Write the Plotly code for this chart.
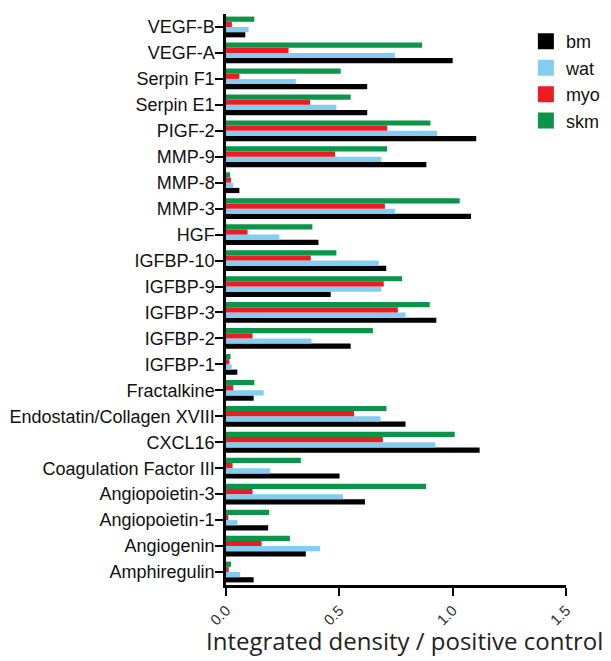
import plotly.graph_objects as go

categories = ["VEGF-B", "VEGF-A", "Serpin F1", "Serpin E1", "PIGF-2", "MMP-9", "MMP-8",
              "MMP-3", "HGF", "IGFBP-10", "IGFBP-9", "IGFBP-3", "IGFBP-2", "IGFBP-1",
              "Fractalkine", "Endostatin/Collagen XVIII", "CXCL16", "Coagulation Factor III",
              "Angiopoietin-3", "Angiopoietin-1", "Angiogenin", "Amphiregulin"]

bm = [0.085, 1.00, 0.623, 0.623, 1.104, 0.884, 0.059, 1.081, 0.408, 0.707, 0.462, 0.928,
      0.550, 0.050, 0.122, 0.792, 1.119, 0.501, 0.613, 0.186, 0.352, 0.122]
wat = [0.100, 0.745, 0.308, 0.487, 0.931, 0.685, 0.032, 0.745, 0.235, 0.674, 0.685, 0.792,
       0.377, 0.025, 0.166, 0.682, 0.924, 0.195, 0.516, 0.051, 0.415, 0.062]
myo = [0.026, 0.276, 0.059, 0.371, 0.711, 0.481, 0.022, 0.701, 0.095, 0.374, 0.696, 0.758,
       0.117, 0.015, 0.032, 0.565, 0.692, 0.029, 0.117, 0.010, 0.157, 0.012]
skm = [0.125, 0.865, 0.506, 0.550, 0.902, 0.711, 0.018, 1.031, 0.381, 0.487, 0.777, 0.899,
       0.648, 0.020, 0.125, 0.708, 1.009, 0.330, 0.883, 0.190, 0.282, 0.022]

x_ticks = [0, 0.5, 1.0, 1.5]
x_tick_labels = ["0.0", "0.5", "1.0", "1.5"]
x_title = "Integrated density / positive control"

series = [("bm", bm, "#000000"), ("wat", wat, "#82CDF0"),
          ("myo", myo, "#EC1C24"), ("skm", skm, "#0C9448")]

fig = go.Figure()
for name, vals, color in series:
    fig.add_trace(go.Bar(y=categories, x=vals, name=name, orientation="h",
                         marker=dict(color=color, line=dict(width=0)),
                         legendgroup=name, showlegend=False))
    # legend proxy with a larger square symbol
    fig.add_trace(go.Scatter(x=[None], y=[None], mode="markers", name=name,
                             marker=dict(symbol="square", size=16, color=color),
                             legendgroup=name, showlegend=True, hoverinfo="skip"))

fig.update_layout(
    width=611, height=661,
    margin=dict(l=218, r=53, t=6, b=84),
    paper_bgcolor="white", plot_bgcolor="white",
    barmode="group", bargap=0.2, bargroupgap=0,
    font=dict(family="Liberation Sans, Arial, sans-serif", color="#111111"),
    showlegend=True,
    legend=dict(x=0.882, y=0.984, xanchor="left", yanchor="top",
                font=dict(size=18, family="Liberation Sans, Arial, sans-serif", color="#111"),
                itemsizing="trace", traceorder="grouped", tracegroupgap=0,
                bgcolor="rgba(0,0,0,0)"),
    xaxis=dict(range=[0, 1.5], tickvals=x_ticks, ticktext=x_tick_labels,
               tickangle=-45, ticks="outside", ticklen=8, tickwidth=2, tickcolor="black",
               showline=True, linecolor="black", linewidth=2.5, showgrid=False, zeroline=False,
               tickfont=dict(size=15, color="#333"), automargin=False),
    yaxis=dict(categoryorder="array", categoryarray=categories[::-1],
               ticks="outside", ticklen=8, tickwidth=2, tickcolor="black",
               showline=True, linecolor="black", linewidth=2.5, showgrid=False, zeroline=False,
               tickfont=dict(size=18, color="#111"), range=[-0.5, 21.5], automargin=False,
               ticklabelstandoff=-3),
    annotations=[dict(text=x_title, xref="paper", yref="paper", x=0.525, y=-0.098,
                      xanchor="center", yanchor="middle", showarrow=False,
                      font=dict(size=24, family="Open Sans, sans-serif", color="#222"))],
)

fig.write_html("out.html")
